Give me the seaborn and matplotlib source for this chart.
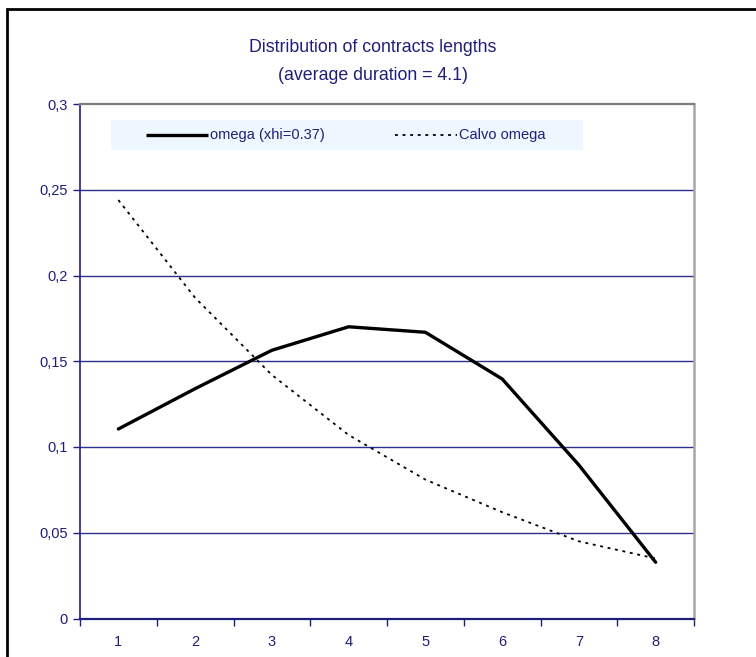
import matplotlib
matplotlib.use("Agg")
import matplotlib.pyplot as plt
import seaborn as sns
import pandas as pd
import numpy as np
from matplotlib.patches import Rectangle

# contract length (quarters) and the two distributions
lengths = [1, 2, 3, 4, 5, 6, 7, 8]
omega_xhi = [0.1105, 0.134, 0.1564, 0.1701, 0.1669, 0.1397, 0.0895, 0.0328]
calvo_omega = [0.244, 0.187, 0.142, 0.107, 0.081, 0.062, 0.045, 0.035]
y_ticks = [0, 0.05, 0.1, 0.15, 0.2, 0.25, 0.3]
y_tick_labels = ["0", "0,05", "0,1", "0,15", "0,2", "0,25", "0,3"]
series_names = ["omega (xhi=0.37)", "Calvo omega"]

NAVY = "#1f1f7a"
GRID = "#2e2e8c"
SOLID_W = 2.4
DOT_W = 1.3
DOTS = [1.6, 2.6]

sns.set_style("white")
plt.rcParams["font.family"] = ["Liberation Sans", "DejaVu Sans"]

df = pd.DataFrame({
    "length": lengths * 2,
    "value": omega_xhi + calvo_omega,
    "series": [series_names[0]] * len(lengths) + [series_names[1]] * len(lengths),
})

W, H = 756, 657
fig = plt.figure(figsize=(W / 100, H / 100), dpi=100)
ax = fig.add_axes([80 / W, 1 - 618.5 / H, 614 / W, 514.5 / H])

sns.lineplot(data=df[df.series == series_names[0]], x="length", y="value",
             color="black", linewidth=SOLID_W, ax=ax, legend=False)
sns.lineplot(data=df[df.series == series_names[1]], x="length", y="value",
             color="black", linewidth=DOT_W, ax=ax, legend=False)
ax.lines[1].set_dashes(DOTS)

ax.set_xlim(0.5, 8.5)
ax.set_ylim(0, 0.3)
ax.set_xlabel("")
ax.set_ylabel("")

ax.set_yticks(y_ticks)
ax.set_yticklabels(y_tick_labels)
ax.set_xticks(lengths)
ax.set_xticklabels([str(v) for v in lengths])
ax.set_xticks(np.arange(0.5, 9.0, 1.0), minor=True)

ax.tick_params(axis="y", which="major", direction="out", length=5, width=1,
               color=NAVY, labelcolor=NAVY, labelsize=10.5, pad=4, left=True)
ax.tick_params(axis="x", which="major", length=0, labelcolor=NAVY,
               labelsize=10.5, pad=12)
ax.tick_params(axis="x", which="minor", direction="out", length=5, width=1,
               color=NAVY, bottom=True)

for y in y_ticks[1:-1]:
    ax.axhline(y, color=GRID, linewidth=1, zorder=0)

ax.spines["left"].set_color(NAVY)
ax.spines["bottom"].set_color(NAVY)
ax.spines["left"].set_linewidth(1.2)
ax.spines["bottom"].set_linewidth(1.6)
ax.spines["top"].set_color("#7f7f7f")
ax.spines["top"].set_linewidth(1.6)
ax.spines["right"].set_color("#a6a6a6")
ax.spines["right"].set_linewidth(1.8)

# legend panel inside the plot area (axes-fraction coordinates)
def ax_x(px):
    return (px - 80) / 614

def ax_y(py):
    return (618.5 - py) / 514.5

ax.add_patch(Rectangle((ax_x(111), ax_y(150)), ax_x(583) - ax_x(111),
                       ax_y(120) - ax_y(150), transform=ax.transAxes,
                       facecolor="#eef7ff", edgecolor="none", zorder=3))
legend_rows = [
    (146, 208, SOLID_W, None, series_names[0]),
    (395, 457, DOT_W, DOTS, series_names[1]),
]
for x0, x1, lw, dashes, label in legend_rows:
    ln, = ax.plot([ax_x(x0), ax_x(x1)], [ax_y(135), ax_y(135)],
                  transform=ax.transAxes, color="black", linewidth=lw,
                  zorder=4, solid_capstyle="butt")
    if dashes:
        ln.set_dashes(dashes)
    ax.text(ax_x(x1 + 2), ax_y(135), label, transform=ax.transAxes,
            ha="left", va="center", color=NAVY, fontsize=10.5, zorder=4)

fig.text(373 / W, 1 - 48 / H, "Distribution of contracts lengths",
         ha="center", va="center", color=NAVY, fontsize=12.8)
fig.text(373 / W, 1 - 75 / H, "(average duration = 4.1)",
         ha="center", va="center", color=NAVY, fontsize=12.8)

# outer chart frame
fig.patches.append(Rectangle((7 / W, -0.1), 1.2, 1 - 9 / H + 0.1,
                             transform=fig.transFigure, fill=False,
                             edgecolor="black", linewidth=2))

fig.savefig("out.png", dpi=100, facecolor="white")
